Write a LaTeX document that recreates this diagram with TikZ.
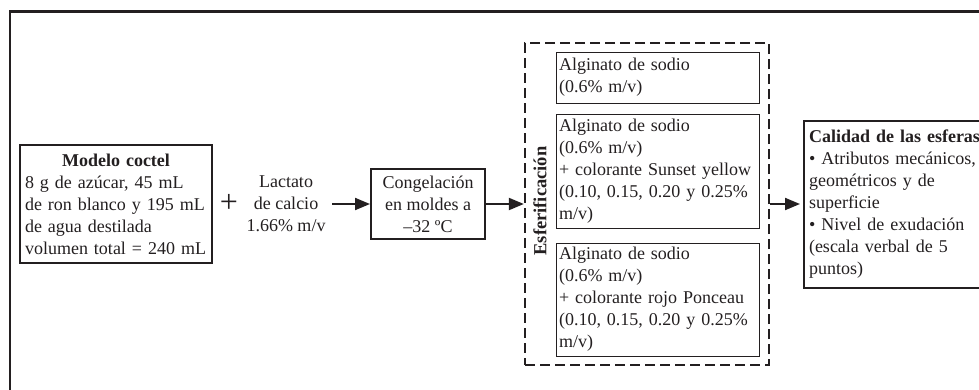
\documentclass[tikz,border=0pt]{standalone}
\usepackage{fontspec}
\setmainfont{Liberation Serif}
\usetikzlibrary{arrows.meta}
\definecolor{ink}{RGB}{35,31,32}
\begin{document}
\begin{tikzpicture}[x=1pt,y=-1pt,
  every node/.style={font=\fontsize{18}{22}\selectfont, text=ink},
  thickbox/.style={draw=ink, line width=2pt, rectangle},
  thinbox/.style={draw=ink, line width=1pt, rectangle, text width=197pt,
    inner xsep=3pt, inner ysep=0pt, align=left, minimum width=203pt},
  arr/.style={draw=ink, line width=2pt, -{Triangle[length=15pt,width=12pt]}}
]
\clip (0,0) rectangle (979,389);
\useasboundingbox (0,0) rectangle (979,389);

% outer frame (only the top and left edges fall inside the page)
\draw[ink, line width=2.5pt] (10,420) -- (10,11.5) -- (1000,11.5);

% cocktail model
\node[thickbox, text width=182pt, inner xsep=5pt, inner ysep=0pt,
      minimum height=118pt, align=left] (modelo) at (116,204)
  {\makebox[182pt]{\bfseries Modelo coctel}\\
   8 g de azúcar, 45 mL\\
   de ron blanco y 195 mL\\
   de agua destilada\\
   volumen total = 240 mL};

\node[font=\fontsize{32}{32}\selectfont] (plus) at (229,203) {+};

\node[align=center] (lactato) at (286,204)
  {Lactato\\de calcio\\1.66\% m/v};

\node[thickbox, minimum width=114pt, minimum height=70pt, inner sep=0pt,
      align=center] (cong) at (428,204)
  {Congelación\\en moldes a\\–32 ºC};

% spherification group
\node[draw=ink, line width=2.3pt, dash pattern=on 10pt off 5pt,
      minimum width=244pt, minimum height=322pt] (esf) at (647,204) {};
\node[rotate=90, font=\fontsize{18.5}{22}\selectfont\bfseries] (esflabel)
  at (540,201) {Esferificación};

\node[thinbox, minimum height=51pt] (alg1) at (657.5,77.5)
  {Alginato de sodio\\(0.6\% m/v)};
\node[thinbox, minimum height=114pt] (alg2) at (657.5,171)
  {Alginato de sodio\\(0.6\% m/v)\\+ colorante Sunset yellow\\(0.10, 0.15, 0.20 y 0.25\%\\m/v)};
\node[thinbox, minimum height=113pt] (alg3) at (657.5,299.5)
  {Alginato de sodio\\(0.6\% m/v)\\+ colorante rojo Ponceau\\(0.10, 0.15, 0.20 y 0.25\%\\m/v)};

% quality of the spheres
\node[thickbox, anchor=west, text width=185pt, inner xsep=5pt, inner ysep=0pt,
      minimum height=167pt, align=left] (cal) at (803,204.5)
  {\textbf{Calidad de las esferas}\\
   • Atributos mecánicos,\\
   geométricos y de\\
   superficie\\
   • Nivel de exudación\\
   (escala verbal de 5\\
   puntos)};

% connectors
\draw[arr, shorten <=3pt] (lactato.east) -- (cong.west);
\draw[arr] (cong.east) -- (esf.west);
\draw[arr, shorten >=3pt] (esf.east) -- (cal.west |- esf.east);
\end{tikzpicture}
\end{document}
